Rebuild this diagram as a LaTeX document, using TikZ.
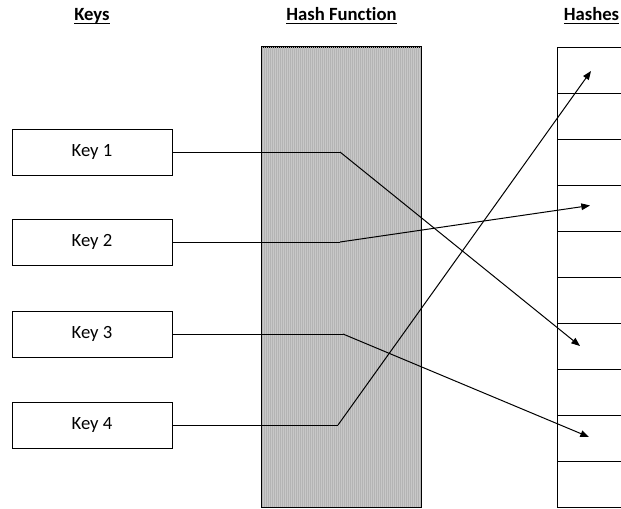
\documentclass[tikz,border=0pt]{standalone}
\usepackage{fontspec}
\setmainfont{Carlito}[Ligatures=NoCommon]
\usetikzlibrary{arrows.meta}
% underlined heading with the rule crossing the descenders
\newcommand\headline[1]{\setbox0\hbox{\bfseries #1}\rlap{\rule[-0.2em]{\wd0}{0.08em}}\box0}
\definecolor{hashfill}{RGB}{200,200,200}
\definecolor{hashline}{RGB}{180,180,180}
\tikzset{
  heading/.style={anchor=base, inner sep=0pt, font=\fontsize{14}{16}\selectfont},
  keybox/.style={draw, line width=0.75pt, minimum width=120pt, minimum height=34.5pt,
    inner sep=0pt, font=\fontsize{14}{16}\selectfont},
  cell/.style={draw, line width=0.75pt, minimum width=52.5pt, minimum height=34.5pt,
    inner sep=0pt, anchor=north west},
  link/.style={line width=0.75pt},
  mapto/.style={line width=0.75pt, -{Triangle[length=6.5pt,width=5pt]}}
}
\begin{document}
\begin{tikzpicture}[x=0.75pt, y=-0.75pt]
  \useasboundingbox (0,0) rectangle (621,508);
  \clip (0,0) rectangle (621,508);
  \fill[white] (0,0) rectangle (621,508);

  % column headings
  \node[heading] (hk) at (92,20.5) {\headline{Keys}};
  \node[heading] (hf) at (341.5,20.5) {\headline{Hash Function}};
  \node[heading] (hh) at (591.5,20.5) {\headline{Hashes}};

  % hash function block with fine vertical texture
  \node[draw, line width=0.75pt, fill=hashfill, minimum width=119.25pt, minimum height=345pt,
        inner sep=0pt] (hash) at (341.5,277) {};
  \begin{scope}
    \clip (hash.south west) rectangle (hash.north east);
    \foreach \i in {0,...,80} {
      \draw[hashline, line width=0.5pt] (262.5+2*\i,47) -- (262.5+2*\i,507);
    }
  \end{scope}
  \draw[line width=0.75pt] (hash.south west) rectangle (hash.north east);

  % keys
  \node[keybox] (k1) at (92,152) {Key 1};
  \node[keybox] (k2) at (92,242) {Key 2};
  \node[keybox] (k3) at (92,334) {Key 3};
  \node[keybox] (k4) at (92,425) {Key 4};

  % hash table cells
  \foreach \r in {1,...,10} {
    \node[cell] (c\r) at (557,{47+46*(\r-1)}) {};
  }

  % bend points inside the hash function
  \coordinate (b1) at (340,152);
  \coordinate (b2) at (340,242);
  \coordinate (b3) at (343,334);
  \coordinate (b4) at (338,425);

  % arrow targets inside the cells
  \coordinate (t1) at (580,346);
  \coordinate (t2) at (590,205.5);
  \coordinate (t3) at (589,437);
  \coordinate (t4) at (591,71);

  % mappings
  \draw[link] (k1.east) -- (b1);
  \draw[link] (k2.east) -- (b2);
  \draw[link] (k3.east) -- (b3);
  \draw[link] (k4.east) -- (b4);
  \draw[mapto] (b1) -- (t1);
  \draw[mapto] (b2) -- (t2);
  \draw[mapto] (b3) -- (t3);
  \draw[mapto] (b4) -- (t4);
\end{tikzpicture}
\end{document}
